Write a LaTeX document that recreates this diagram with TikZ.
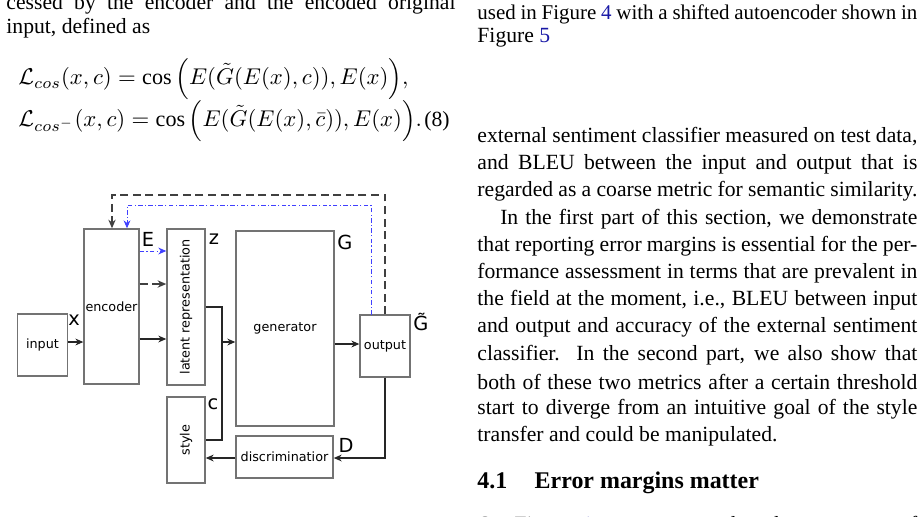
\documentclass[tikz,border=0pt]{standalone}
\usepackage{amsmath}
\usepackage{fontspec}
\setmainfont{Liberation Serif}
\newfontfamily\diag{DejaVu Sans}
\usetikzlibrary{arrows.meta}
\definecolor{linkblue}{rgb}{0.1,0.1,0.65}
\begin{document}
\begin{tikzpicture}[x=0.4387pt,y=-0.4387pt,
  box/.style={draw=black!55,line width=0.6pt,inner sep=0pt,font=\diag\fontsize{5.6}{6.5}\selectfont},
  lab/.style={font=\diag\fontsize{8.5}{9}\selectfont,inner sep=0pt},
  arr/.style={-{Stealth[length=3.5pt,width=3pt]},line width=0.5pt,black!85},
  con/.style={line width=0.5pt,black!85},
  fb/.style={-{Stealth[length=3.8pt,width=3.2pt]},line width=1.1pt,black!75,dash pattern=on 3.5pt off 2pt},
  bl/.style={-{Stealth[length=3.5pt,width=3pt]},line width=0.4pt,blue!75,dash pattern=on 2pt off 1pt on 0.5pt off 1pt},
  txt/.style={anchor=west,inner sep=0pt,font=\fontsize{9.5}{11.5}\selectfont},
  eqt/.style={anchor=west,inner sep=0pt,font=\fontsize{9.7}{11}\selectfont}]
\useasboundingbox (0,0) rectangle (922,516);
\clip (0,0) rectangle (922,516);
% left column text
\node[txt] (l1) at (6,4) {\makebox[197pt][s]{cessed by the encoder and the encoded original}};
\node[txt] (l2) at (6,28) {input, defined as};
\node[eqt] (eq1) at (18,79) {$\mathcal{L}_{cos}(x,c) = \cos\Big(E(\tilde{G}(E(x),c)),E(x)\Big),$};
\node[eqt] (eq2) at (18,121) {$\mathcal{L}_{cos^-}(x,c) = \cos\Big(E(\tilde{G}(E(x),\bar{c})),E(x)\Big).$};
\node[txt] (eqn) at (424,121) {(8)};
% right column text
\node[txt,font=\fontsize{9.2}{11}\selectfont] (r0) at (477,14) {\makebox[193pt][s]{used in Figure \textcolor{linkblue}{4} with a shifted autoencoder shown in}};
\node[txt] (r1) at (477,38) {Figure \textcolor{linkblue}{5}};
\node[txt] (p1) at (477,137) {\makebox[193pt][s]{external sentiment classifier measured on test data,}};
\node[txt] (p2) at (477,164) {\makebox[193pt][s]{and BLEU between the input and output that is}};
\node[txt] (p3) at (477,191) {\makebox[193pt][s]{regarded as a coarse metric for semantic similarity.}};
\node[txt] (p4) at (477,219) {\makebox[193pt][s]{\hspace{10pt}In the first part of this section, we demonstrate}};
\node[txt] (p5) at (477,246) {\makebox[193pt][s]{that reporting error margins is essential for the per-}};
\node[txt] (p6) at (477,273) {\makebox[193pt][s]{formance assessment in terms that are prevalent in}};
\node[txt] (p7) at (477,300) {\makebox[193pt][s]{the field at the moment, i.e., BLEU between input}};
\node[txt] (p8) at (477,327) {\makebox[193pt][s]{and output and accuracy of the external sentiment}};
\node[txt] (p9) at (477,355) {\makebox[193pt][s]{classifier.\ \ In the second part, we also show that}};
\node[txt] (p10) at (477,382) {\makebox[193pt][s]{both of these two metrics after a certain threshold}};
\node[txt] (p11) at (477,409) {\makebox[193pt][s]{start to diverge from an intuitive goal of the style}};
\node[txt] (p12) at (477,436) {transfer and could be manipulated.};
\node[txt,font=\fontsize{10.5}{13}\selectfont\bfseries] (h) at (477,483) {4.1\hspace{12pt}Error margins matter};
\node[txt] (p13) at (477,526) {\makebox[193pt][s]{On Figure \textcolor{linkblue}{1} one can see that the outcomes of}};
% diagram boxes
\node[box,minimum width=21.9pt,minimum height=27.2pt] (input) at (42.5,345) {input};
\node[box,minimum width=24.1pt,minimum height=68pt] (encoder) at (111.5,306.5) {encoder};
\node[box,minimum width=16.7pt,minimum height=68.4pt] (latent) at (186,307) {};
\node[box,draw=none,rotate=90] (lt) at (186,307) {latent representation};
\node[box,minimum width=16.7pt,minimum height=37.7pt] (style) at (186,440) {};
\node[box,draw=none,rotate=90] (st) at (186,440) {style};
\node[box,minimum width=43pt,minimum height=85.5pt] (gen) at (285,328.5) {generator};
\node[box,minimum width=21.9pt,minimum height=27.2pt] (out) at (385,346) {output};
\node[box,minimum width=42.6pt,minimum height=18.4pt] (disc) at (284.5,457) {discriminatior};
% labels
\node[lab] (lx) at (74,320) {x};
\node[lab] (lE) at (148,239) {E};
\node[lab] (lz) at (214,239) {z};
\node[lab] (lG) at (345,242) {G};
\node[lab] (lGt) at (421,322) {\~G};
\node[lab] (lc) at (213,404) {c};
\node[lab] (lD) at (346,445) {D};
% connectors
\coordinate (j1) at (222,307);
\coordinate (j2) at (222,440);
\coordinate (j3) at (222,342);
\coordinate (o1) at (385,458);
\coordinate (f1) at (385,195);
\coordinate (f2) at (112,195);
\coordinate (b0) at (371,315);
\coordinate (b1) at (371,205);
\coordinate (b2) at (127,205);
\draw[arr] (input.east |- 0,342) -- (encoder.west |- 0,342);
\draw[bl] (encoder.east |- 0,251) -- (latent.west |- 0,251);
\draw[fb] (encoder.east |- 0,284) -- (latent.west |- 0,284);
\draw[arr] (encoder.east |- 0,339) -- (latent.west |- 0,339);
\draw[con] (latent.east |- j1) -- (j1) -- (j2) -- (style.east |- j2);
\draw[arr] (j3) -- (gen.west |- j3);
\draw[arr] (gen.east |- 0,344) -- (out.west |- 0,344);
\draw[arr] (out.south) -- (o1) -- (disc.east |- o1);
\draw[arr] (disc.west |- o1) -- (style.east |- o1);
\draw[fb] (out.north) -- (f1) -- (f2) -- (encoder.north -| f2);
\draw[bl] (b0) -- (b1) -- (b2) -- (encoder.north -| b2);
\end{tikzpicture}
\end{document}
